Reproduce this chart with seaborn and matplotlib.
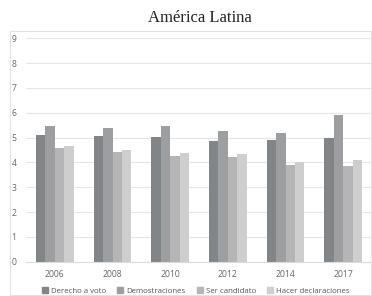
import pandas as pd
import matplotlib.pyplot as plt
import seaborn as sns
from matplotlib.patches import Rectangle

# values
years = ['2006', '2008', '2010', '2012', '2014', '2017']
series = ['Derecho a voto', 'Demostraciones', 'Ser candidato', 'Hacer declaraciones']
derecho_a_voto = [5.12, 5.08, 5.04, 4.88, 4.90, 5.00]
demostraciones = [5.45, 5.37, 5.47, 5.27, 5.19, 5.92]
ser_candidato = [4.60, 4.41, 4.26, 4.20, 3.89, 3.85]
hacer_declaraciones = [4.65, 4.49, 4.37, 4.33, 4.01, 4.09]
colors = ['#828587', '#9c9e9f', '#b5b5b5', '#cecece']

df = pd.DataFrame({'Año': years, 'Derecho a voto': derecho_a_voto, 'Demostraciones': demostraciones,
                   'Ser candidato': ser_candidato, 'Hacer declaraciones': hacer_declaraciones})
long = df.melt(id_vars='Año', value_vars=series, var_name='Serie', value_name='Valor')

sns.set_style('white')
plt.rcParams['font.family'] = ['Open Sans', 'DejaVu Sans']

fig = plt.figure(figsize=(3.72, 2.96), dpi=100)
ax = fig.add_axes([26 / 372, 34.3 / 296, 1 - 26 / 372, (261.7 - 38.3) / 296])

# light frame around the chart area
fig.patches.append(Rectangle((10 / 372, 1 / 296), 361 / 372, (296 - 30.7 - 1) / 296,
                             transform=fig.transFigure, fill=False, edgecolor='#e2e2e2', linewidth=0.8))

sns.barplot(data=long, x='Año', y='Valor', hue='Serie', palette=colors, width=0.65,
            ax=ax, legend=False, saturation=1, linewidth=0)

ax.set_ylim(0, 9)
ax.set_xlim(-0.5, 5.5)
ax.set_yticks(range(0, 10))
ax.xaxis.grid(False)
ax.yaxis.grid(True, color='#e6e6e6', linewidth=0.8)
ax.set_axisbelow(True)
for s in ['top', 'right', 'left']:
    ax.spines[s].set_visible(False)
ax.spines['bottom'].set_color('#dadada')
ax.spines['bottom'].set_linewidth(0.8)
ax.tick_params(axis='both', length=0, labelsize=6.2, labelcolor='#666666')
ax.tick_params(axis='y', pad=7)
ax.tick_params(axis='x', pad=6)
ax.set_xlabel('')
ax.set_ylabel('')

fig.text(200 / 372, 1 - 18 / 296, 'América Latina', ha='center', va='center',
         fontsize=12, family='Liberation Serif', color='#222222')

handles = [Rectangle((0, 0), 1, 1, color=c) for c in colors]
fig.legend(handles, series, loc='center', bbox_to_anchor=(196 / 372, 1 - 291 / 296), ncol=4,
           frameon=False, fontsize=5.7, labelcolor='#555555', handlelength=0.75, handleheight=0.75,
           handletextpad=0.4, columnspacing=1.4, borderaxespad=0)

fig.savefig('out.png', dpi=100)
